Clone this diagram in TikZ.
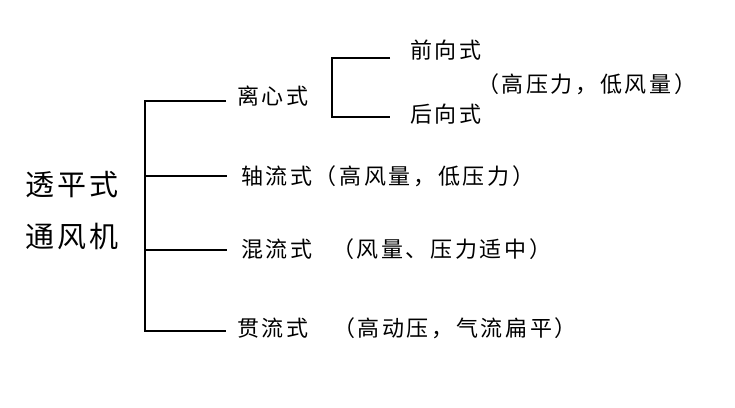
\documentclass[tikz,border=0pt]{standalone}
\usepackage{fontspec}
\setmainfont{Noto Sans CJK SC}[LetterSpace=12]
\tikzset{
  lbl/.style={anchor=west, inner sep=0pt, font=\fontsize{22}{26}\selectfont},
  big/.style={anchor=west, inner sep=0pt, font=\fontsize{29}{34}\selectfont}
}
\begin{document}
\begin{tikzpicture}[x=1pt,y=-1pt,line width=2pt]
\useasboundingbox[fill=white] (0,0) rectangle (735,407);
\node[big] (tp) at (24,185) {透平式};
\node[big] (tf) at (24,236) {通风机};
\coordinate (t1) at (145,101);
\coordinate (t2) at (145,176);
\coordinate (t3) at (145,250);
\coordinate (t4) at (145,331);
\node[lbl] (lx) at (236,96) {离心式};
\node[lbl] (zl) at (240,176) {轴流式（高风量，低压力）};
\node[lbl] (hl) at (240,249) {混流式};
\node[lbl] (hlp) at (331,249) {（风量、压力适中）};
\node[lbl] (gl) at (236,328) {贯流式};
\node[lbl] (glp) at (332,328) {（高动压，气流扁平）};
\node[lbl] (qx) at (409,50) {前向式};
\node[lbl] (hx) at (409,114) {后向式};
\node[lbl] (lxp) at (476,84) {（高压力，低风量）};
\coordinate (b1) at (332,58);
\coordinate (b2) at (332,117);
\draw[] (226,101) -- (t1) -- (t4) -- (226,331);
\draw[] (t2) -- (227,176);
\draw[] (t3) -- (227,250);
\draw[] (390,58) -- (b1) -- (b2) -- (390,117);
\end{tikzpicture}
\end{document}
